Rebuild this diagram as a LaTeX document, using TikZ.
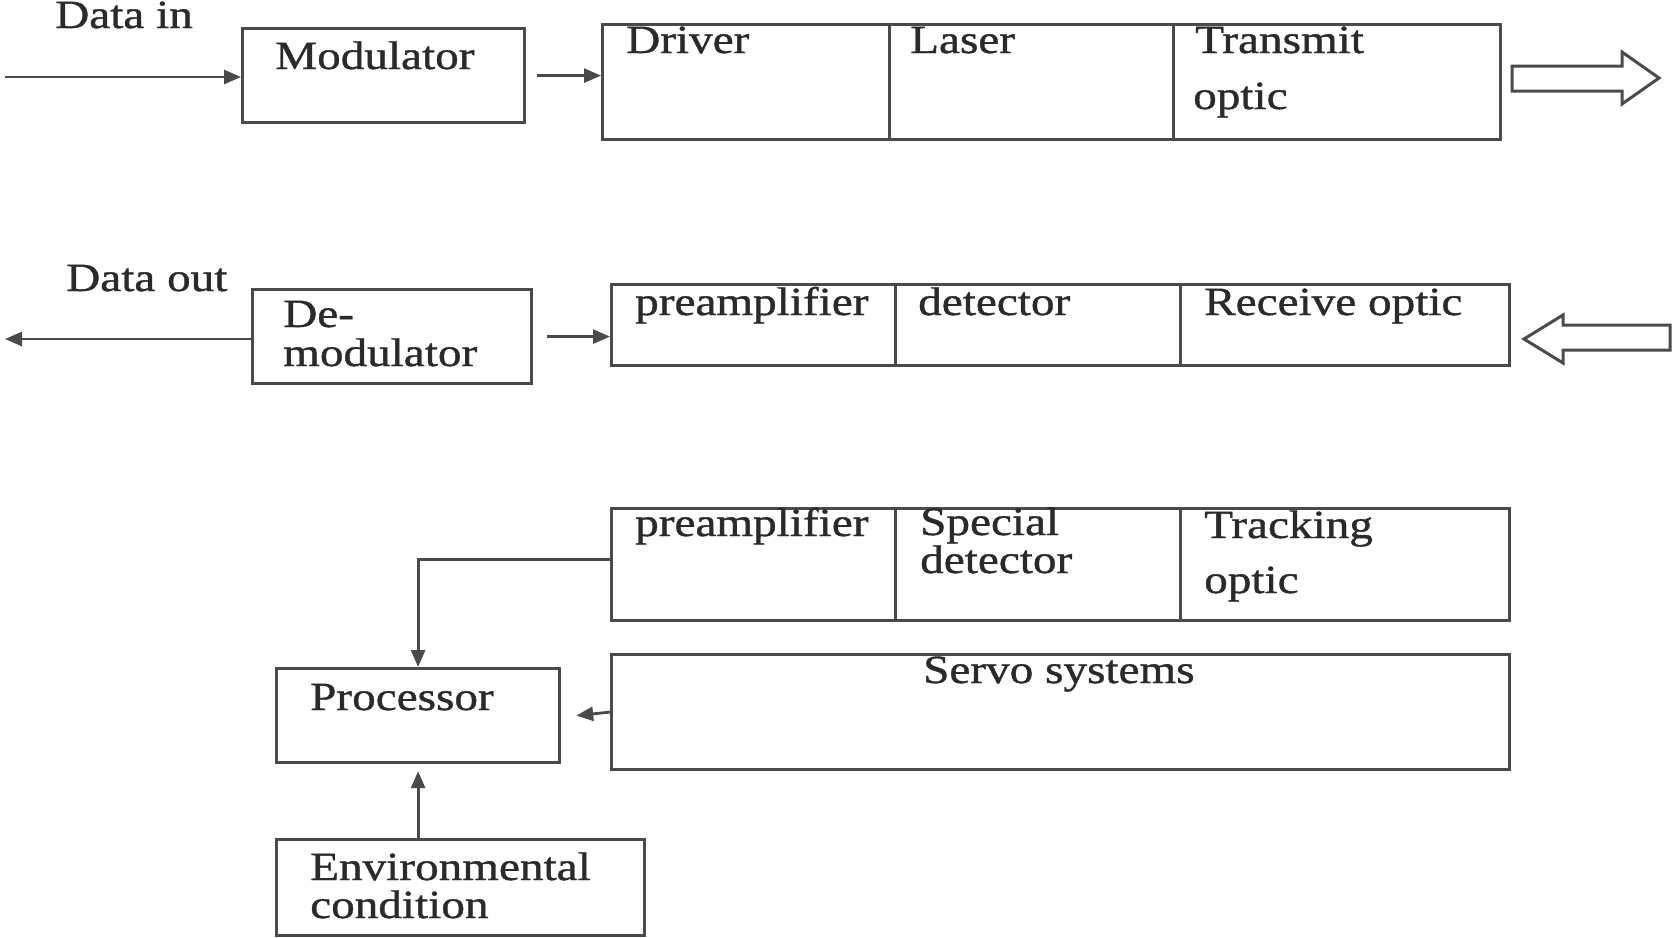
\documentclass[tikz,border=0pt]{standalone}
\usepackage{fontspec}
\setmainfont[FakeStretch=1.18,FakeBold=1]{Liberation Serif}
\usetikzlibrary{arrows.meta,calc}
\definecolor{linec}{HTML}{4A4A4A}
\definecolor{textc}{HTML}{2A2A2A}
\begin{document}
\begin{tikzpicture}[x=1pt,y=-1pt,
  box/.style={draw=linec, line width=3.2pt, rectangle, inner sep=0pt, anchor=north west},
  lbl/.style={anchor=base west, inner sep=0pt, text=textc, font=\fontsize{40}{44}\selectfont},
  arr/.style={draw=linec, line width=2.8pt, -{Triangle[length=17pt,width=14pt]}},
  hollow/.style={draw=linec, line width=3pt, fill=white, line join=miter}]
\useasboundingbox (0,0) rectangle (1673,937);

% transmitter chain
\node[box, minimum width=282pt, minimum height=94pt] (mod) at (241,27) {};
\node[box, minimum width=287pt, minimum height=115pt] (drv) at (601,23) {};
\node[box, minimum width=284pt, minimum height=115pt] (las) at (888,23) {};
\node[box, minimum width=327pt, minimum height=115pt] (txo) at (1172,23) {};
\node[lbl] (tdin) at (55,28) {Data in};
\node[lbl] (tmod) at (275,69) {Modulator};
\node[lbl] (tdrv) at (626,53) {Driver};
\node[lbl] (tlas) at (910,53) {Laser};
\node[lbl] (ttx1) at (1195,53) {Transmit};
\node[lbl] (ttx2) at (1193,109) {optic};

% receiver chain
\node[box, minimum width=279pt, minimum height=94pt] (dem) at (251,288) {};
\node[box, minimum width=284pt, minimum height=81pt] (pre2) at (610,283) {};
\node[box, minimum width=285pt, minimum height=81pt] (det2) at (894,283) {};
\node[box, minimum width=329pt, minimum height=81pt] (rxo) at (1179,283) {};
\node[lbl] (tdout) at (66,291) {Data out};
\node[lbl] (tdem1) at (283,327) {De-};
\node[lbl] (tdem2) at (283,366) {modulator};
\node[lbl] (tpre2) at (635,315) {preamplifier};
\node[lbl] (tdet2) at (918,315) {detector};
\node[lbl] (trxo) at (1204,315) {Receive optic};

% tracking chain
\node[box, minimum width=284pt, minimum height=112pt] (pre3) at (610,507) {};
\node[box, minimum width=285pt, minimum height=112pt] (det3) at (894,507) {};
\node[box, minimum width=329pt, minimum height=112pt] (trk) at (1179,507) {};
\node[box, minimum width=898pt, minimum height=115pt] (servo) at (610,653) {};
\node[box, minimum width=283pt, minimum height=94pt] (proc) at (275,667) {};
\node[box, minimum width=368pt, minimum height=96pt] (env) at (275,838) {};
\node[lbl] (tpre3) at (635,536) {preamplifier};
\node[lbl] (tdet3a) at (920,535) {Special};
\node[lbl] (tdet3b) at (920,573) {detector};
\node[lbl] (ttrk1) at (1204,538) {Tracking};
\node[lbl] (ttrk2) at (1204,593) {optic};
\node[lbl] (tservo) at (923,683) {Servo systems};
\node[lbl] (tproc) at (310,710) {Processor};
\node[lbl] (tenv1) at (310,880) {Environmental};
\node[lbl] (tenv2) at (310,918) {condition};

% connectors
\coordinate (inL) at (5,77);
\draw[arr] (inL) -- (inL -| mod.west);
\draw[arr] ($(mod.east)+(11,0)$) -- (mod.east -| drv.west);
\coordinate (outL) at (5,339);
\draw[arr] (dem.west |- outL) -- (outL);
\draw[arr] ($(dem.east)+(14,0)$) -- (dem.east -| pre2.west);
\draw[arr] ($(pre3.west)+(0,-5)$) -| (proc.north);
\draw[arr] (servo.west) -- ($(proc.east)+(15,0)$);
\draw[arr] (env.north -| proc.south) -- ($(proc.south)+(0,7)$);

% light beams
\draw[hollow] (1512,66) -- (1622,66) -- (1622,52) -- (1659,78) -- (1622,104)
  -- (1622,91) -- (1512,91) -- cycle;
\draw[hollow] (1670,325) -- (1563,325) -- (1563,315) -- (1524,339) -- (1563,363)
  -- (1563,350) -- (1670,350) -- cycle;
\end{tikzpicture}
\end{document}
